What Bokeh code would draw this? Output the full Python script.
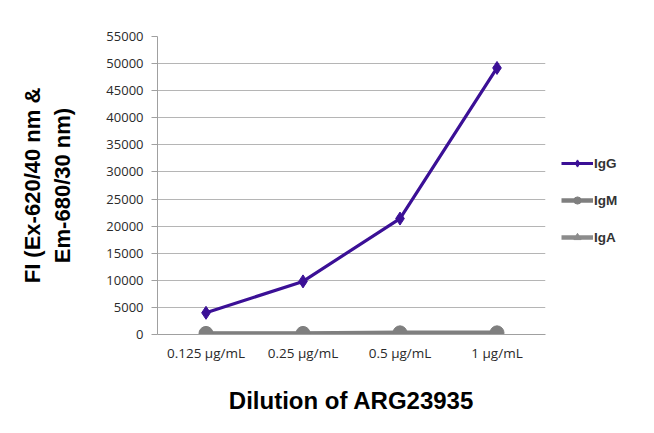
from bokeh.plotting import figure
from bokeh.models import Legend, LegendItem, Range1d, FixedTicker, NumeralTickFormatter
from bokeh.embed import file_html
from bokeh.resources import INLINE

categories = ["0.125 µg/mL", "0.25 µg/mL", "0.5 µg/mL", "1 µg/mL"]
igg = [4000, 9800, 21400, 49200]
igm = [200, 200, 300, 300]
iga = [100, 100, 150, 150]
y_ticks = list(range(0, 55001, 5000))

p = figure(x_range=categories, frame_width=388, frame_height=298, output_backend="svg",
           toolbar_location=None, min_border_left=157, min_border_right=93,
           min_border_top=36, min_border_bottom=83)
p.y_range = Range1d(0, 55000)
p.outline_line_color = None
p.background_fill_color = "white"

r_iga_l = p.line(categories, iga, line_color="#8c8c8c", line_width=4.5)
r_iga_m = p.scatter(categories, iga, marker="triangle", size=12, fill_color="#8c8c8c", line_color="#8c8c8c")
r_igm_l = p.line(categories, igm, line_color="#7f7f7f", line_width=4.5)
r_igm_m = p.scatter(categories, igm, marker="circle", size=14, fill_color="#7f7f7f", line_color="#7f7f7f")
r_igg_l = p.line(categories, igg, line_color="#3b1096", line_width=3.2)
r_igg_m = p.scatter(categories, igg, marker="diamond", size=13, fill_color="#3b1096", line_color="#3b1096")

p.yaxis.ticker = FixedTicker(ticks=y_ticks)
p.yaxis.formatter = NumeralTickFormatter(format="0")
p.ygrid.grid_line_color = "#b5b5b5"
p.ygrid.grid_line_width = 1
p.xgrid.grid_line_color = None

for ax in (p.xaxis[0], p.yaxis[0]):
    ax.axis_line_color = "#a0a0a0"
    ax.axis_line_width = 1
    ax.major_tick_line_color = "#a0a0a0"
    ax.minor_tick_line_color = None
    ax.major_label_text_font = "Open Sans"
    ax.major_label_text_color = "#2a2a2a"
    ax.axis_label_text_font = "Liberation Sans"
    ax.axis_label_text_font_style = "bold"
    ax.axis_label_text_color = "black"

p.yaxis.major_label_text_font_size = "13px"
p.xaxis.major_label_text_font_size = "13.5px"
p.yaxis.major_tick_out = 6
p.yaxis.major_tick_in = 0
p.yaxis.major_label_standoff = 8
p.xaxis.major_tick_out = 0
p.xaxis.major_tick_in = 0
p.xaxis.major_label_standoff = 9

p.yaxis.axis_label = "FI (Ex-620/40 nm &\nEm-680/30 nm)"
p.yaxis.axis_label_text_font_size = "22px"
p.yaxis.axis_label_standoff = 28
p.xaxis.axis_label = "Dilution of ARG23935"
p.xaxis.axis_label_text_font_size = "24px"
p.xaxis.axis_label_standoff = 22

legend = Legend(items=[
    LegendItem(label="IgG", renderers=[r_igg_l, r_igg_m]),
    LegendItem(label="IgM", renderers=[r_igm_l, r_igm_m]),
    LegendItem(label="IgA", renderers=[r_iga_l, r_iga_m]),
], location="left", orientation="vertical")
legend.title = " "
legend.title_text_font_size = "12px"
legend.title_standoff = 16
legend.border_line_color = None
legend.background_fill_alpha = 0
legend.label_text_font = "Liberation Sans"
legend.label_text_font_style = "bold"
legend.label_text_font_size = "13.5px"
legend.label_text_color = "#333333"
legend.glyph_width = 32
legend.glyph_height = 18
legend.label_height = 18
legend.spacing = 19
legend.label_standoff = 1
legend.padding = 0
legend.margin = 16
p.add_layout(legend, "right")

open("out.html", "w").write(file_html(p, INLINE))
